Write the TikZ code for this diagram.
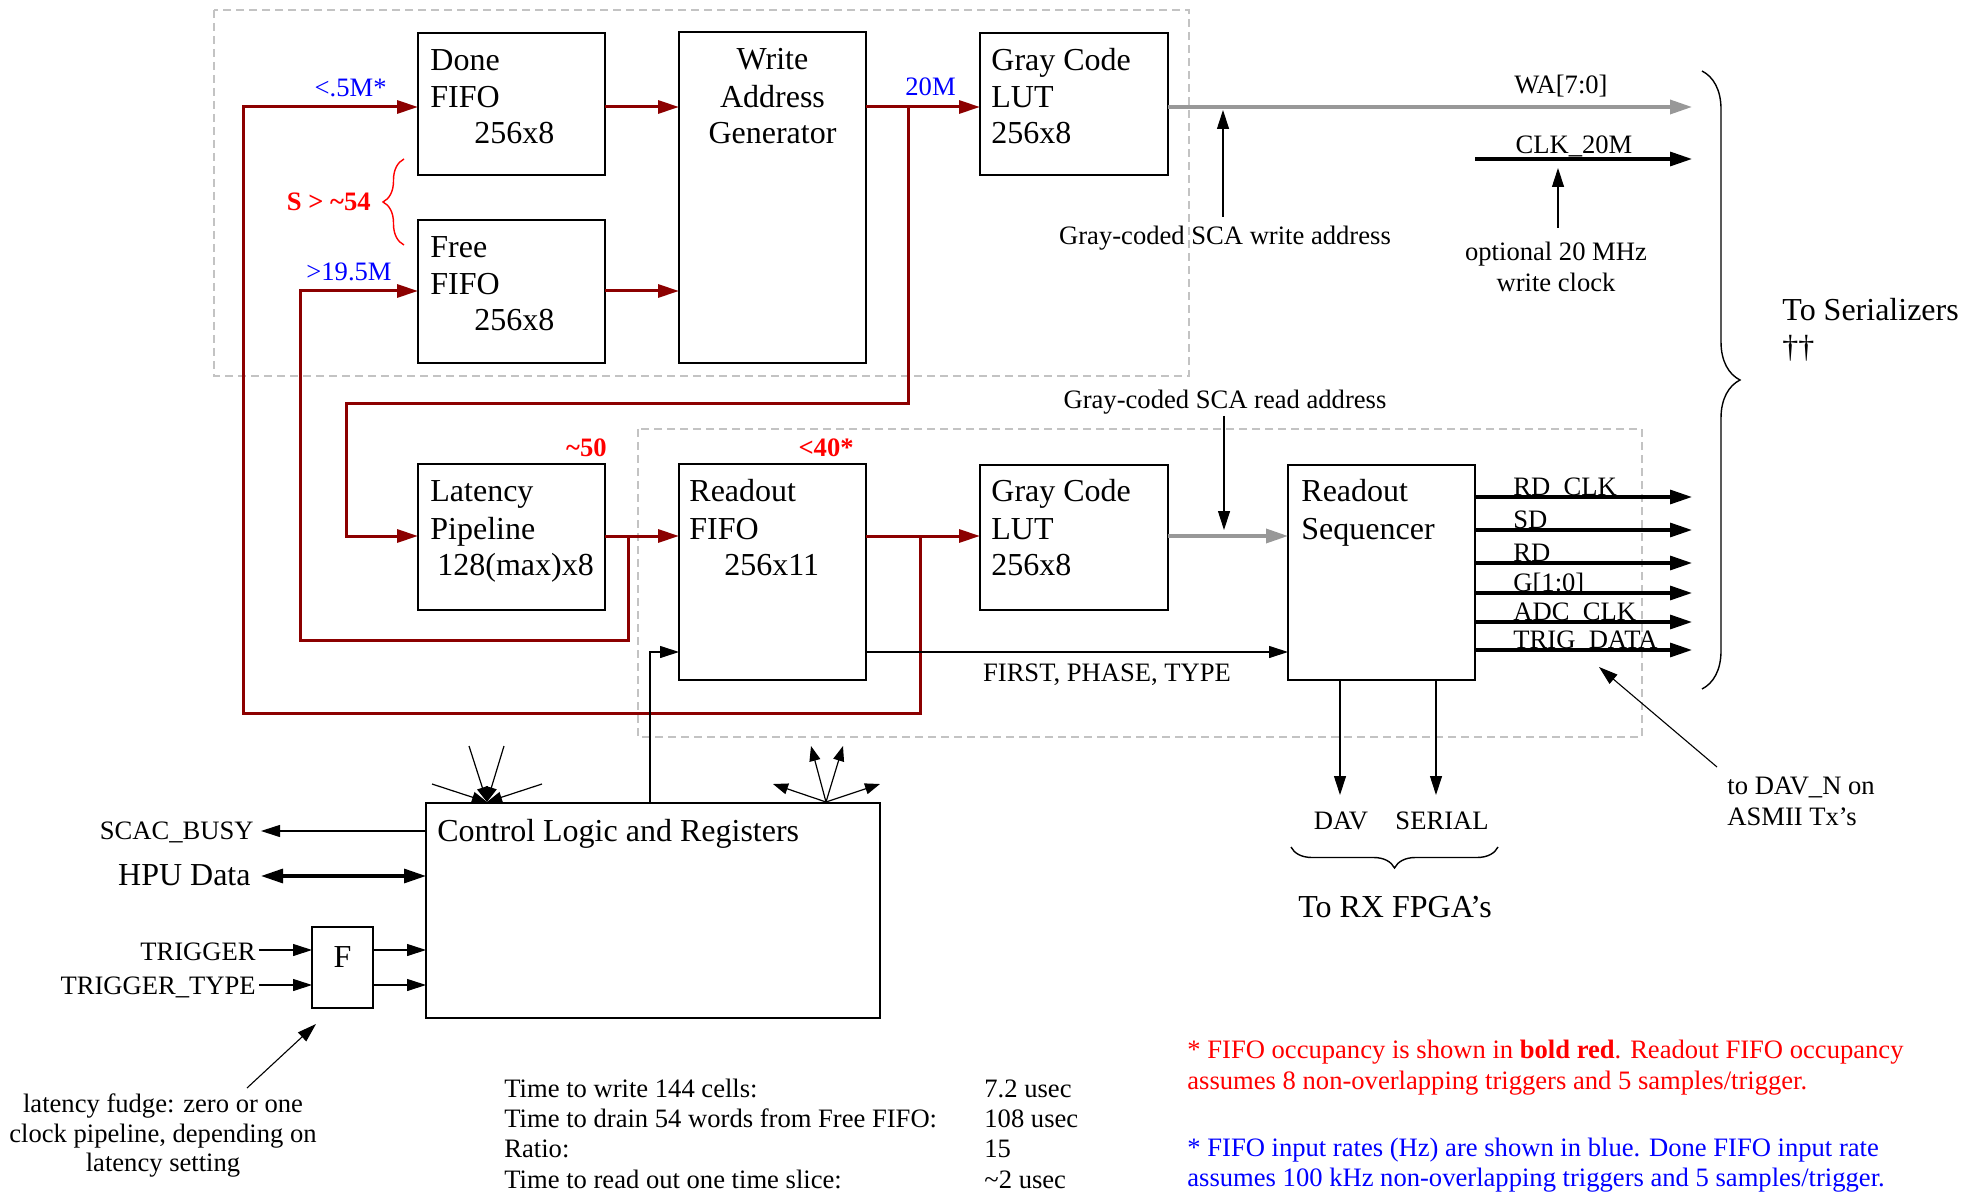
\documentclass[tikz,border=0pt]{standalone}
\usepackage{fontspec}
\setmainfont{Liberation Serif}
\usetikzlibrary{arrows.meta,decorations.pathreplacing}
\definecolor{darkred}{RGB}{140,0,0}
\definecolor{lred}{RGB}{255,0,0}
\definecolor{lblue}{RGB}{0,0,255}
\definecolor{arrgray}{RGB}{152,152,152}
\definecolor{dashgray}{RGB}{195,195,195}
\newcommand\BoxFont{\fontsize{16}{18.5}\selectfont}
\newcommand\LabFont{\fontsize{13.3}{15}\selectfont}
\begin{document}
\begin{tikzpicture}[x=0.5pt,y=-0.5pt,
  box/.style={draw, line width=0.8pt, inner sep=0pt, outer sep=0pt},
  bt/.style={font=\BoxFont, anchor=base west, inner sep=0pt},
  btc/.style={font=\BoxFont, anchor=base, inner sep=0pt},
  lbl/.style={font=\LabFont, inner sep=0pt},
  redarr/.style={draw=darkred, line width=1.5pt, -{Triangle[length=10.5pt,width=6.5pt]}},
  thinarr/.style={draw, line width=0.55pt, -{Triangle[length=9.5pt,width=6pt]}},
  thickarr/.style={draw, line width=1.6pt, -{Triangle[length=11pt,width=7pt]}},
  grayarr/.style={draw=arrgray, line width=1.7pt, -{Triangle[length=11pt,width=7pt]}},
  hpuarr/.style={draw, line width=1.6pt, {Triangle[length=11pt,width=7pt]}-{Triangle[length=11pt,width=7pt]}},
  fanarr/.style={draw, line width=0.6pt, -{Triangle[length=7.5pt,width=5.5pt]}},
  dashbox/.style={draw=dashgray, line width=0.6pt, dash pattern=on 4pt off 2.5pt},
  bracedeco/.style={decorate, line width=0.7pt},
]
\useasboundingbox (0,0) rectangle (1965,1192);

% dashed groups
\draw[dashbox] (214,10) rectangle (1189,376);
\draw[dashbox] (638,429) rectangle (1642,737);

% boxes
\node[box, minimum width=93.5pt, minimum height=71pt] (done) at (511.5,104) {};
\node[box, minimum width=93.5pt, minimum height=71.5pt] (free) at (511.5,291.5) {};
\node[box, minimum width=93.5pt, minimum height=165.5pt] (wag) at (772.5,197.5) {};
\node[box, minimum width=94pt, minimum height=71pt] (lut1) at (1074,104) {};
\node[box, minimum width=93.5pt, minimum height=73pt] (lat) at (511.5,537) {};
\node[box, minimum width=93.5pt, minimum height=108pt] (rof) at (772.5,572) {};
\node[box, minimum width=94pt, minimum height=72.5pt] (lut2) at (1074,537.5) {};
\node[box, minimum width=93.5pt, minimum height=107.5pt] (seq) at (1381.5,572.5) {};
\node[box, minimum width=227pt, minimum height=107.5pt] (ctrl) at (653,910.5) {};
\node[box, minimum width=30.5pt, minimum height=40.5pt] (fbox) at (342.5,967.5) {};

% box texts
\node[bt] (doneT1) at (430,71) {Done};
\node[bt] (doneT2) at (430,108) {FIFO};
\node[bt] (doneT3) at (474,144) {256x8};
\node[bt] (freeT1) at (430,258) {Free};
\node[bt] (freeT2) at (430,295) {FIFO};
\node[bt] (freeT3) at (474,331) {256x8};
\node[btc] (wagT1) at (772.5,70) {Write};
\node[btc] (wagT2) at (772.5,108) {Address};
\node[btc] (wagT3) at (772.5,144) {Generator};
\node[bt] (lut1T1) at (991,71) {Gray Code};
\node[bt] (lut1T2) at (991,108) {LUT};
\node[bt] (lut1T3) at (991,144) {256x8};
\node[bt] (latT1) at (430,502) {Latency};
\node[bt] (latT2) at (430,539) {Pipeline};
\node[bt] (latT3) at (437,575) {128(max)x8};
\node[bt] (rofT1) at (689,502) {Readout};
\node[bt] (rofT2) at (689,539) {FIFO};
\node[bt] (rofT3) at (724,575) {256x11};
\node[bt] (lut2T1) at (991,502) {Gray Code};
\node[bt] (lut2T2) at (991,539) {LUT};
\node[bt] (lut2T3) at (991,575) {256x8};
\node[bt] (seqT1) at (1301,502) {Readout};
\node[bt] (seqT2) at (1301,539) {Sequencer};
\node[bt] (ctrlT) at (437,841) {Control Logic and Registers};
\node[btc] (fT) at (342.5,967) {F};

% rows
\coordinate (rA) at (0,107);
\coordinate (rB) at (0,291);
\coordinate (rC) at (0,536);
\coordinate (rD) at (0,652);
\coordinate (brA) at (908,107);
\coordinate (brC1) at (628,536);
\coordinate (brC2) at (920,536);

% red data paths
\draw[redarr] (done.east |- rA) -- (wag.west |- rA);
\draw[redarr] (free.east |- rB) -- (wag.west |- rB);
\draw[redarr] (wag.east |- rA) -- (lut1.west |- rA);
\draw[redarr] (brA) -- (908,404) -- (346,404) -- (346,536) -- (lat.west |- rC);
\draw[redarr] (lat.east |- rC) -- (rof.west |- rC);
\draw[redarr] (brC1) -- (628,640) -- (300,640) -- (300,291) -- (free.west |- rB);
\draw[redarr] (rof.east |- rC) -- (lut2.west |- rC);
\draw[redarr] (brC2) -- (920,713) -- (243,713) -- (243,107) -- (done.west |- rA);

% red / blue annotations
\node[lbl, text=lblue, anchor=base east] (r1) at (387,97) {<.5M*};
\node[lbl, text=lblue, anchor=base east] (r2) at (392,281) {>19.5M};
\node[lbl, text=lblue, anchor=base west] (r3) at (905,96) {20M};
\node[lbl, text=lred, anchor=base east, font=\LabFont\bfseries] (occ1) at (371,211) {S > \textasciitilde54};
\node[lbl, text=lred, anchor=base east, font=\LabFont\bfseries] (occ2) at (607,457) {\textasciitilde50};
\node[lbl, text=lred, anchor=base east, font=\LabFont\bfseries] (occ3) at (854,457) {<40*};
\draw[bracedeco, draw=lred, decoration={brace, amplitude=10.5pt}] (404,245) -- (404,159);

% gray address paths
\coordinate (waEnd) at (1692,107);
\draw[grayarr] (lut1.east |- rA) -- (waEnd);
\draw[grayarr] (lut2.east |- rC) -- (seq.west |- rC);
\node[lbl, anchor=base] (waL) at (1561,94) {WA[7:0]};

% write clock
\coordinate (clkS) at (1475,159);
\coordinate (clkE) at (1692,159);
\draw[thickarr] (clkS) -- (clkE);
\node[lbl, anchor=base] (clkL) at (1574,154) {CLK\_20M};
\node[lbl, anchor=base] (optL1) at (1556,261) {optional 20 MHz};
\node[lbl, anchor=base] (optL2) at (1556,292) {write clock};
\coordinate (optS) at (1558,228);
\coordinate (optE) at (1558,168);
\draw[thinarr] (optS) -- (optE);

% address annotations
\node[lbl, anchor=base] (wtxt) at (1225,245) {Gray-coded SCA write address};
\coordinate (wS) at (1223,217);
\coordinate (wE) at (1223,110);
\draw[thinarr] (wS) -- (wE);
\node[lbl, anchor=base] (rtxt) at (1225,409) {Gray-coded SCA read address};
\coordinate (rS) at (1224,416);
\coordinate (rE) at (1224,530);
\draw[thinarr] (rS) -- (rE);

% sequencer outputs
\foreach \n/\y/\t in {1/497/RD\_CLK, 2/530/SD, 3/563/RD, 4/593/G[1:0], 5/622/ADC\_CLK, 6/650/TRIG\_DATA}{
  \coordinate (o\n) at (1692,\y);
  \draw[thickarr] (seq.east |- o\n) -- (o\n);
  \node[lbl, anchor=base west] (ol\n) at (1513,\y-2) {\t};
}

% first/phase/type
\draw[thinarr] (rof.east |- rD) -- (seq.west |- rD);
\node[lbl, anchor=base] (fpt) at (1107,681) {FIRST, PHASE, TYPE};
\coordinate (cx) at (650,652);
\draw[thinarr] (ctrl.north -| cx) -- (cx) -- (rof.west |- rD);

% DAV / SERIAL
\coordinate (davE) at (1340,795);
\coordinate (serE) at (1436,795);
\draw[thinarr] (seq.south -| davE) -- (davE);
\draw[thinarr] (seq.south -| serE) -- (serE);
\node[lbl, anchor=base] (davL) at (1341,829) {DAV};
\node[lbl, anchor=base] (serL) at (1442,829) {SERIAL};
\draw[bracedeco, decoration={brace, amplitude=10.5pt}] (1498,847) -- (1291,847);
\node[btc] (rxL) at (1395,917) {To RX FPGA’s};

% DAV_N note
\coordinate (dnS) at (1717,767);
\coordinate (dnE) at (1599,667);
\draw[thinarr] (dnS) -- (dnE);
\node[lbl, anchor=base west] (dn1) at (1727,794) {to DAV\_N on};
\node[lbl, anchor=base west] (dn2) at (1727,825) {ASMII Tx’s};

% serializer brace
\draw[bracedeco, decoration={brace, amplitude=19pt}] (1702,71) -- (1702,689);
\node[bt] (serT1) at (1782,321) {To Serializers};
\node[bt] (serT2) at (1782,358) {††};

% control logic I/O
\coordinate (scacE) at (261,831);
\draw[thinarr] (ctrl.west |- scacE) -- (scacE);
\node[lbl, anchor=base east] (scacL) at (254,839) {SCAC\_BUSY};
\coordinate (hpuE) at (261,876);
\draw[hpuarr] (hpuE) -- (ctrl.west |- hpuE);
\node[font=\BoxFont, inner sep=0pt, anchor=base east] (hpuL) at (251,885) {HPU Data};
\coordinate (trgS) at (259,950);
\coordinate (ttS) at (259,985);
\draw[thinarr] (trgS) -- (fbox.west |- trgS);
\draw[thinarr] (ttS) -- (fbox.west |- ttS);
\draw[thinarr] (fbox.east |- trgS) -- (ctrl.west |- trgS);
\draw[thinarr] (fbox.east |- ttS) -- (ctrl.west |- ttS);
\node[lbl, anchor=base east] (trgL) at (256,960) {TRIGGER};
\node[lbl, anchor=base east] (ttL) at (256,994) {TRIGGER\_TYPE};

% latency fudge
\coordinate (fgS) at (247,1088);
\coordinate (fgE) at (316,1024);
\draw[thinarr] (fgS) -- (fgE);
\node[lbl, anchor=base] (fg1) at (163,1112) {latency fudge: zero or one};
\node[lbl, anchor=base] (fg2) at (163,1142) {clock pipeline, depending on};
\node[lbl, anchor=base] (fg3) at (163,1171) {latency setting};

% fans above control
\coordinate (fanL) at (487,802);
\coordinate (fanR) at (826,802);
\foreach \p in {(432,784),(469,746),(504,746),(542,784)}{
  \draw[fanarr] \p -- (fanL);
}
\foreach \p in {(773,784),(811,746),(843,746),(880,784)}{
  \draw[fanarr] (fanR) -- \p;
}

% timing table
\node[lbl, anchor=base west] (tb1) at (504,1097) {Time to write 144 cells:};
\node[lbl, anchor=base west] (tb2) at (504,1127) {Time to drain 54 words from Free FIFO:};
\node[lbl, anchor=base west] (tb3) at (504,1157) {Ratio:};
\node[lbl, anchor=base west] (tb4) at (504,1188) {Time to read out one time slice:};
\node[lbl, anchor=base west] (tv1) at (984,1097) {7.2 usec};
\node[lbl, anchor=base west] (tv2) at (984,1127) {108 usec};
\node[lbl, anchor=base west] (tv3) at (984,1157) {15};
\node[lbl, anchor=base west] (tv4) at (984,1188) {\textasciitilde2 usec};

% footnotes
\node[lbl, text=lred, anchor=base west] (fn1) at (1187,1058) {* FIFO occupancy is shown in \textbf{bold red}. Readout FIFO occupancy};
\node[lbl, text=lred, anchor=base west] (fn2) at (1187,1089) {assumes 8 non-overlapping triggers and 5 samples/trigger.};
\node[lbl, text=lblue, anchor=base west] (fn3) at (1187,1156) {* FIFO input rates (Hz) are shown in blue. Done FIFO input rate};
\node[lbl, text=lblue, anchor=base west] (fn4) at (1187,1186) {assumes 100 kHz non-overlapping triggers and 5 samples/trigger.};
\end{tikzpicture}
\end{document}
